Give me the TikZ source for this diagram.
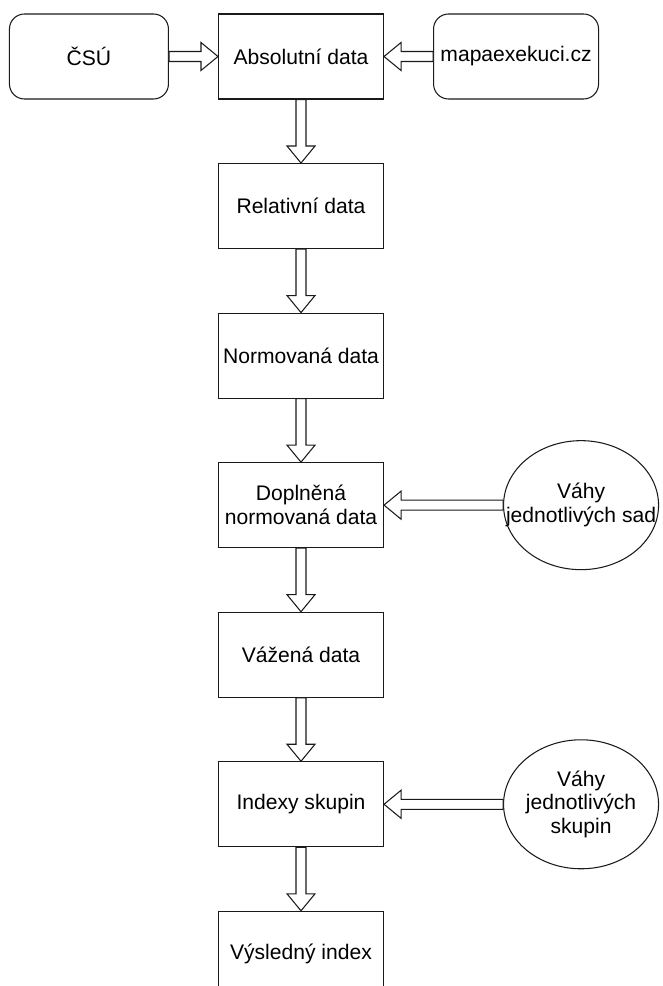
\documentclass[tikz,border=0pt]{standalone}
\usepackage{fontspec}
\setmainfont{Liberation Sans}
\usepackage{tikz}
\usetikzlibrary{positioning,calc,shapes.geometric}
\definecolor{flInk}{HTML}{1A1A1A}
\tikzset{
  % Data step box
  databox/.style={rectangle,draw=flInk,line width=0.6pt,fill=white,
    minimum width=3.3cm,minimum height=1.7cm,inner sep=2pt,
    align=center,font={\fontsize{12}{13.5}\selectfont},text=black},
  % Source box (rounded)
  srcbox/.style={databox,rounded corners=0.3cm},
  % Weights ellipse
  wellipse/.style={ellipse,draw=flInk,line width=0.6pt,fill=white,
    minimum width=3.1cm,minimum height=2.58cm,inner sep=-0.6cm,
    align=center,font={\fontsize{12}{13.5}\selectfont},text=black},
  % Hollow block arrow
  blkarr/.style={draw=flInk,line width=0.6pt,fill=white,line join=miter},
}
% Block arrows: #1 = from, #2 = to
\newcommand{\downblk}[2]{%
  \draw[blkarr] ($(#1.south)+(-0.1,0)$) -- ($(#2.north)+(-0.1,0.34)$)
    -- ++(-0.18,0) -- (#2.north) -- ++(0.28,0.34) -- ++(-0.18,0)
    -- ($(#1.south)+(0.1,0)$) -- cycle;}
\newcommand{\rightblk}[2]{%
  \draw[blkarr] ($(#1.east)+(0,0.1)$) -- ($(#2.west)+(-0.34,0.1)$)
    -- ++(0,0.18) -- (#2.west) -- ++(-0.34,-0.28) -- ++(0,0.18)
    -- ($(#1.east)+(0,-0.1)$) -- cycle;}
\newcommand{\leftblk}[2]{%
  \draw[blkarr] ($(#1.west)+(0,0.1)$) -- ($(#2.east)+(0.34,0.1)$)
    -- ++(0,0.18) -- (#2.east) -- ++(0.34,-0.28) -- ++(0,0.18)
    -- ($(#1.west)+(0,-0.1)$) -- cycle;}

\begin{document}
\begin{tikzpicture}
  \useasboundingbox (0,0) rectangle (13.24,-19.72);

  % top row
  \node[databox] (abs) at (6.02,-1.13) {Absolutní data};
  \node[srcbox,minimum width=3.18cm,left=0.98cm of abs] (csu) {ČSÚ};
  \node[srcbox,right=0.98cm of abs] (mapa) {mapaexekuci.cz};

  % main column
  \node[databox,below=1.27cm of abs] (rel) {Relativní data};
  \node[databox,below=1.27cm of rel] (norm) {Normovaná data};
  \node[databox,below=1.27cm of norm] (dopl) {Doplněná\\normovaná data};
  \node[databox,below=1.27cm of dopl] (vaz) {Vážená data};
  \node[databox,below=1.27cm of vaz] (idx) {Indexy skupin};
  \node[databox,below=1.27cm of idx] (vys) {Výsledný index};

  % weights
  \node[wellipse,right=2.38cm of dopl] (wsad) {Váhy\\jednotlivých sad};
  \node[wellipse,right=2.38cm of idx] (wsk) {Váhy\\jednotlivých\\skupin};

  \rightblk{csu}{abs}
  \leftblk{mapa}{abs}
  \downblk{abs}{rel}
  \downblk{rel}{norm}
  \downblk{norm}{dopl}
  \downblk{dopl}{vaz}
  \downblk{vaz}{idx}
  \downblk{idx}{vys}
  \leftblk{wsad}{dopl}
  \leftblk{wsk}{idx}
\end{tikzpicture}
\end{document}
